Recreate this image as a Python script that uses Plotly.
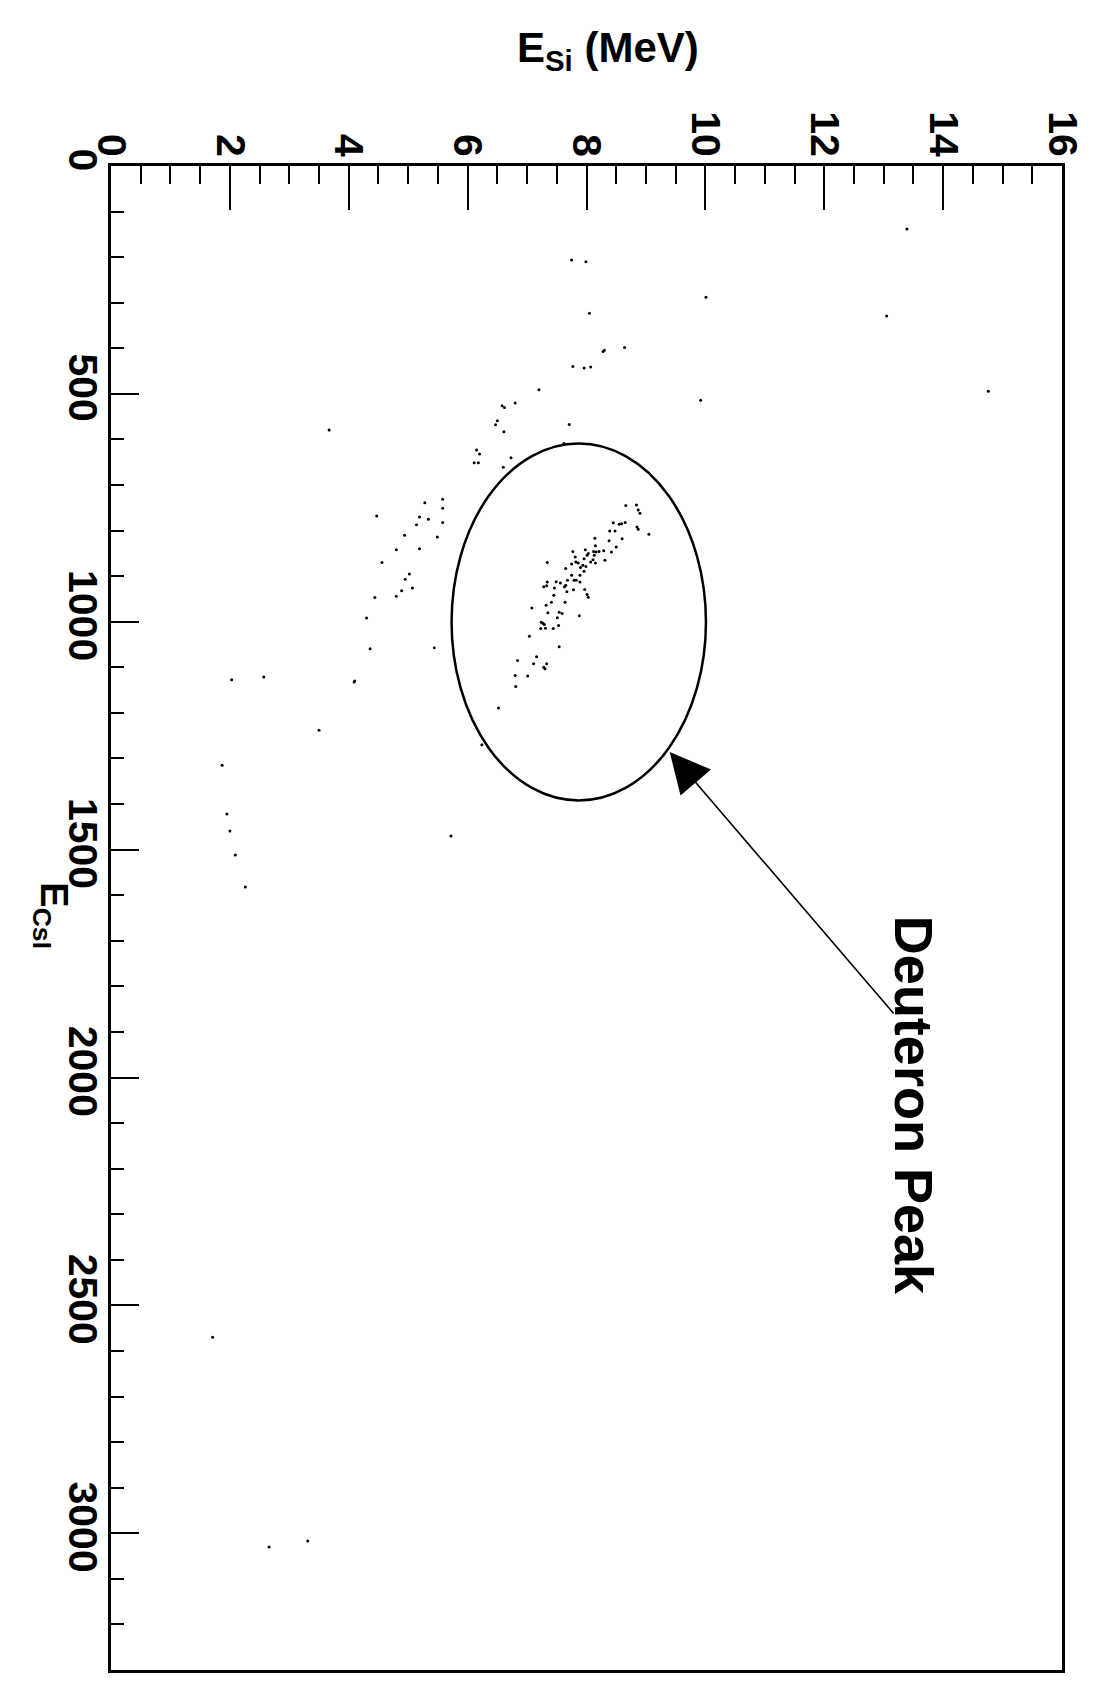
import plotly.graph_objects as go

# ---------------- data (E_Si in MeV, E_CsI in channels) ----------------
# deuteron cluster (inside the ellipse)
deut_esi = [8.66, 8.84, 8.87, 8.90, 8.45, 8.55, 8.59, 8.65, 8.85, 8.87, 9.05, 8.39, 8.48, 8.14, 8.60,
            8.38, 8.15, 8.50, 7.77, 7.98, 8.12, 8.16, 8.21, 8.29, 8.42, 8.03, 8.01, 7.81, 8.13, 7.96,
            7.34, 8.31, 7.82, 7.86, 7.75, 8.11, 8.07, 8.15, 7.94, 7.99, 7.90, 7.65, 7.96, 7.75, 7.89,
            7.68, 7.79, 7.83, 7.89, 7.34, 7.49, 7.56, 7.28, 7.33, 7.65, 7.63, 7.46, 7.78, 7.67, 7.97,
            7.45, 8.01, 8.03, 7.41, 7.64, 7.32, 7.08, 7.35, 7.54, 7.59, 7.51, 7.88, 7.24, 7.27, 7.29,
            7.23, 7.31, 7.44, 7.53, 7.04, 7.54, 7.16, 6.84, 7.11, 7.28, 7.30, 7.33, 6.80, 7.01, 6.81]
deut_ecsi = [745, 744, 755, 762, 783, 786, 785, 782, 792, 797, 808, 801, 801, 817, 818,
             822, 833, 836, 846, 842, 846, 847, 846, 844, 847, 850, 854, 858, 854, 862,
             870, 865, 869, 871, 873, 864, 869, 871, 876, 879, 881, 883, 889, 898, 898,
             909, 909, 909, 913, 913, 912, 915, 923, 921, 920, 923, 926, 930, 934, 929,
             942, 940, 946, 957, 957, 964, 970, 980, 979, 982, 991, 987, 1001, 1004, 1006,
             1015, 1014, 1015, 1008, 1032, 1055, 1077, 1085, 1092, 1100, 1103, 1092, 1118, 1119, 1142]

# upper band
upper_esi = [7.75, 7.99, 10.01, 8.05, 8.28, 8.30, 8.64, 7.77, 7.96, 8.07, 7.20, 6.58, 6.62, 6.80,
             3.67, 6.50, 6.47, 6.61, 7.71, 9.92, 7.62, 6.15, 6.20, 6.11, 6.18, 6.73, 6.60]
upper_ecsi = [206, 210, 288, 323, 407, 404, 398, 440, 443, 441, 491, 526, 530, 520,
              579, 559, 568, 583, 567, 514, 609, 623, 632, 651, 651, 640, 661]

# left band
left_esi = [5.28, 5.58, 5.58, 4.47, 5.19, 5.34, 5.14, 5.58, 4.94, 5.49, 4.80, 5.19, 4.56, 5.02,
            4.95, 5.07, 4.89, 4.80, 4.44, 4.30, 4.36, 5.44, 4.10, 4.09, 6.52, 6.24, 5.72]
left_ecsi = [739, 731, 751, 768, 770, 775, 787, 782, 810, 814, 842, 840, 870, 895,
             907, 926, 932, 944, 947, 992, 1059, 1057, 1130, 1132, 1189, 1270, 1470]

# far-left band
far_esi = [2.03, 2.57, 3.50, 1.87, 1.95, 2.00, 2.09, 2.26]
far_ecsi = [1127, 1121, 1238, 1315, 1422, 1459, 1512, 1582]

# isolated events
iso_esi = [13.39, 13.05, 14.76, 1.71, 2.66, 3.31]
iso_ecsi = [138, 329, 494, 2570, 3030, 3017]

# ellipse around the deuteron peak (E_Si range, E_CsI range)
ell_esi = [5.73, 10.01]
ell_ecsi = [609, 1392]

# arrow: tip and tail, label centre
arrow_tip = [9.40, 1286]
arrow_tail = [13.19, 1863]
label_pos = [13.51, 2060]

x_ticks = [0, 2, 4, 6, 8, 10, 12, 14, 16]
y_ticks = [0, 500, 1000, 1500, 2000, 2500, 3000]

all_esi = deut_esi + upper_esi + left_esi + far_esi + iso_esi
all_ecsi = deut_ecsi + upper_ecsi + left_ecsi + far_ecsi + iso_ecsi

FONT = "Liberation Sans, Arial, Helvetica, sans-serif"

fig = go.Figure()
fig.add_trace(go.Scatter(
    x=all_esi, y=all_ecsi, mode="markers",
    marker=dict(color="black", size=3),
    showlegend=False, hoverinfo="skip",
))

tickfont = dict(family=FONT, size=41, color="black", weight="bold")

fig.update_layout(
    width=1094, height=1668,
    margin=dict(l=103, r=40, t=158, b=3, pad=0),
    paper_bgcolor="white", plot_bgcolor="white",
    xaxis=dict(
        side="top", range=[0, 16], tickmode="array", tickvals=x_ticks,
        ticktext=[str(v) for v in x_ticks],
        ticks="inside", ticklen=44, tickwidth=2, tickcolor="black",
        minor=dict(dtick=0.5, tick0=0, ticks="inside", ticklen=18, tickwidth=2, tickcolor="black"),
        showline=True, mirror=True, linecolor="black", linewidth=2.5,
        showgrid=False, zeroline=False, tickangle=90, tickfont=tickfont,
        ticklabelstandoff=-8,
    ),
    yaxis=dict(
        range=[3300, 0], tickmode="array", tickvals=y_ticks,
        ticktext=[str(v) for v in y_ticks],
        ticks="inside", ticklen=28, tickwidth=2, tickcolor="black",
        minor=dict(dtick=100, tick0=0, ticks="inside", ticklen=13, tickwidth=2, tickcolor="black"),
        showline=True, mirror=True, linecolor="black", linewidth=2.5,
        showgrid=False, zeroline=False, tickangle=90, tickfont=tickfont,
        ticklabelstandoff=-10,
    ),
)

fig.add_shape(type="circle", xref="x", yref="y",
              x0=ell_esi[0], x1=ell_esi[1], y0=ell_ecsi[0], y1=ell_ecsi[1],
              line=dict(color="black", width=2.5))

# arrow
fig.add_annotation(x=arrow_tip[0], y=arrow_tip[1], xref="x", yref="y",
                   ax=arrow_tail[0], ay=arrow_tail[1], axref="x", ayref="y",
                   text="", showarrow=True, arrowhead=2, arrowsize=5, arrowwidth=1.6,
                   arrowcolor="black", standoff=0, startstandoff=0)

# label
fig.add_annotation(x=label_pos[0], y=label_pos[1], xref="x", yref="y",
                   text="Deuteron Peak", showarrow=False, textangle=90,
                   xanchor="center", yanchor="middle",
                   font=dict(family=FONT, size=54, color="black", weight="bold"))

# axis titles
fig.add_annotation(x=0.5226, y=1.077, xref="paper", yref="paper",
                   text="E<sub>Si</sub> (MeV)", showarrow=False,
                   xanchor="center", yanchor="middle",
                   font=dict(family=FONT, size=42, color="black", weight="bold"))
fig.add_annotation(x=-0.064, y=0.5017, xref="paper", yref="paper",
                   text="E<sub>CsI</sub>", showarrow=False, textangle=90,
                   xanchor="center", yanchor="middle",
                   font=dict(family=FONT, size=38, color="black", weight="bold"))

fig.write_html("out.html")
